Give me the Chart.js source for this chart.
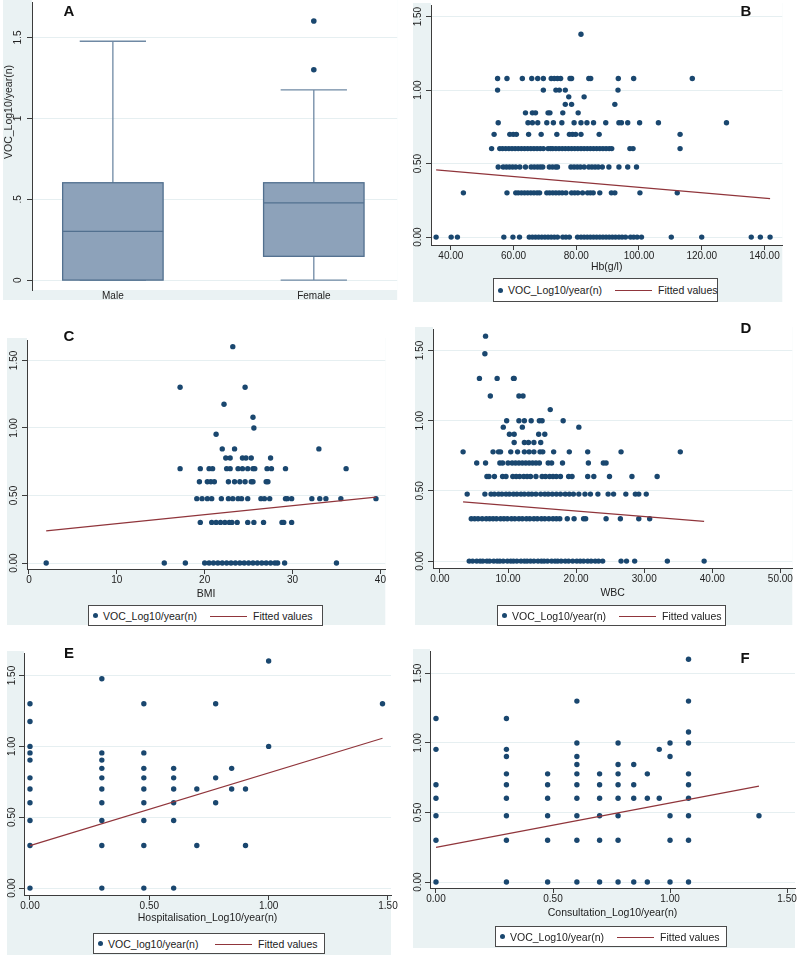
<!DOCTYPE html>
<html lang="en">
<head>
<meta charset="UTF-8">
<title>VOC_Log10/year(n) panels</title>
<style>
  body { margin: 0; background: #fff; font-family: "Liberation Sans", Arial, sans-serif; }
  #page { position: relative; width: 800px; height: 958px; overflow: hidden; }
  canvas { position: absolute; z-index: 1; }
  .letter { position: absolute; z-index: 5; font: bold 15px "Liberation Sans", Arial, sans-serif; color: #111; transform: translate(-50%, -50%); }
  .ytitle { position: absolute; z-index: 5; font-size: 10.5px; color: #222; white-space: nowrap; transform: translate(-50%, -50%) rotate(-90deg); }
  .legend { position: absolute; z-index: 5; box-sizing: border-box; border: 1px solid #4a4a4a; background: #fff; font-size: 10.5px; color: #222; }
  .legend span { position: absolute; top: 50%; white-space: nowrap; }
  .ldot { left: 4px; width: 5px; height: 5px; margin-top: -2.5px; border-radius: 50%; background: #1A476F; }
  .lt1 { left: 14px; transform: translateY(-50%); }
  .lline { left: 121px; width: 37px; border-top: 1.2px solid #90353B; }
  .lt2 { left: 164px; transform: translateY(-50%); }
</style>
</head>
<body>
<div id="page">
  <div class="letter" style="left:69px;top:10px">A</div>
  <div class="letter" style="left:746px;top:10px">B</div>
  <div class="letter" style="left:69px;top:335px">C</div>
  <div class="letter" style="left:746px;top:327px">D</div>
  <div class="letter" style="left:69px;top:652px">E</div>
  <div class="letter" style="left:745px;top:657px">F</div>
  <div class="ytitle" style="left:8px;top:112px">VOC_Log10/year(n)</div>
</div>

<script src="https://cdn.jsdelivr.net/npm/chart.js"></script>
<script>
    // ---- Panel A: box plot by sex ----
    var boxCats = ['Male', 'Female'];
    var boxMin = [0, 0];
    var boxQ1 = [0, 0.147];
    var boxMed = [0.301, 0.477];
    var boxQ3 = [0.602, 0.602];
    var boxMax = [1.477, 1.176];
    var outlierCat = [2, 2];
    var outlierVal = [1.301, 1.602];
    var boxYTicks = [0, 0.5, 1, 1.5];
    var boxYLabels = ['0', '.5', '1', '1.5'];

    // ---- Panel B: Hb (rows of [VOC value, Hb values]) ----
    var hbRows = [
        [0, [35.3, 40.1, 42.1, 56.9, 59.8, 61.9, 65, 66, 67, 68, 69, 70, 71, 72, 73, 74, 75.7, 76.7, 77.8, 80.4, 81.5, 82.5, 83.5, 84.5, 85.5, 86.5, 87.5, 88.5, 89.5, 90.5, 91.5, 92.5, 93.6, 94.6, 95.7, 97.3, 98.3, 99.4, 100.8, 110.3, 120, 135.8, 138.7, 141.8]],
        [0.301, [44, 57.9, 60.7, 61.5, 62.5, 63.5, 64.5, 65.5, 66.5, 67.5, 68.3, 70.6, 71.5, 72.5, 73.5, 74.5, 75.5, 76.7, 78.5, 79.5, 80.5, 82, 83.6, 84.5, 85.4, 87.5, 91.2, 92.3, 100.3, 112.2]],
        [0.477, [55.1, 56.7, 57.7, 58.7, 59.7, 60.7, 62, 63.8, 65.6, 66.6, 67.6, 68.5, 69.3, 71.4, 72.4, 73.4, 74, 78.3, 79.3, 80.3, 81.3, 82.5, 84, 85, 86, 87, 88.3, 90.4, 93.6, 96.4, 99.2]],
        [0.602, [53, 55.6, 56.5, 57.5, 58.5, 59.5, 60.5, 61.5, 62.5, 63.5, 64.5, 65.5, 66.5, 67.5, 68.5, 69.5, 71, 71.8, 72.5, 73.5, 74.5, 75.5, 76.5, 77.5, 78.5, 79.5, 80.5, 81.5, 82.5, 83.5, 84.5, 85.5, 86.5, 87.5, 88.5, 89.5, 90.5, 91.3, 97.1, 98.1, 113.1]],
        [0.699, [53.8, 58.8, 59.9, 60.9, 64.8, 68.8, 73.8, 77.8, 78.8, 79.8, 81.5, 87.3, 113.1]],
        [0.778, [55.1, 64.6, 66, 67.7, 70.6, 72.7, 75.4, 79.3, 81.5, 83.4, 85.5, 89.4, 93.6, 94.4, 96.4, 100.2, 106.2, 127.9]],
        [0.845, [63.8, 66, 67, 71, 71.6, 75.7, 80.6]],
        [0.903, [76.5, 78.5, 92.3]],
        [0.954, [77.6, 82.5]],
        [1.0, [54.9, 69.5, 73.5, 74.6, 76.5, 93.3]],
        [1.079, [54.9, 57.9, 62.8, 65.8, 67.7, 69.5, 72, 73, 74, 75, 78, 78.5, 84, 84.6, 93.4, 98.3, 117]],
        [1.380, [81.5]]
    ];
    var hbFitX = [35.3, 141.8];
    var hbFitY = [0.457, 0.262];
    var hbTicks = [40, 60, 80, 100, 120, 140];

    // ---- Panel C: BMI ----
    var bmiRows = [
        [0, [1.96, 15.4, 17.8, 20, 20.5, 21, 21.5, 22, 22.5, 23, 23.5, 24, 24.5, 25, 25.5, 26, 26.5, 27, 27.5, 28, 28.3, 29.1, 35]],
        [0.301, [19.5, 20.8, 21.3, 21.8, 22.3, 22.8, 23.1, 23.7, 24.9, 25.6, 26.7, 28.8, 29, 29.9]],
        [0.477, [19.1, 19.7, 20.3, 20.8, 21.9, 22.7, 23.2, 23.8, 24.2, 24.9, 26.4, 26.8, 27.4, 29.2, 29.4, 29.9, 32.2, 33.1, 33.8, 35.5, 39.5]],
        [0.602, [19.4, 20.3, 20.7, 21.1, 22.7, 23.4, 24, 24.6, 25.3, 25.5, 27, 27.2]],
        [0.699, [17.2, 19.5, 20.5, 20.9, 22.5, 22.9, 23.8, 24.3, 24.9, 25.5, 25.7, 27.1, 27.6, 29.2, 36.1]],
        [0.778, [22.4, 22.9, 24.3, 24.7, 25.3, 27.5]],
        [0.845, [22, 23.4, 33]],
        [0.954, [21.3]],
        [1.0, [25.6]],
        [1.079, [25.5]],
        [1.176, [22.2]],
        [1.301, [17.2, 24.6]],
        [1.602, [23.2]]
    ];
    var bmiFitX = [1.96, 39.5];
    var bmiFitY = [0.238, 0.488];
    var bmiTicks = [0, 10, 20, 30, 40];

    // ---- Panel D: WBC ----
    var wbcRows = [
        [0, [4.3, 4.8, 5.4, 5.9, 6.3, 6.9, 7.3, 7.9, 8.4, 8.8, 9.3, 9.9, 10.4, 10.8, 11.3, 11.9, 12.4, 12.8, 13.3, 13.8, 14.4, 14.9, 15.3, 15.8, 16.4, 16.9, 17.3, 17.8, 18.4, 18.9, 19.5, 20.1, 20.6, 21.1, 21.7, 22.2, 22.8, 23.3, 23.9, 26.6, 27.4, 28.6, 33.4, 38.8]],
        [0.301, [4.6, 5.1, 5.6, 6.2, 6.8, 7.3, 7.8, 8.3, 8.9, 9.4, 9.9, 10.5, 11.0, 11.6, 12.1, 12.7, 13.2, 13.8, 14.3, 14.9, 15.4, 16.0, 16.6, 17.1, 17.6, 18.7, 19.7, 21.1, 21.4, 24.4, 26.5, 29.2, 30.8]],
        [0.477, [4.0, 6.6, 7.5, 8.0, 8.6, 9.1, 9.7, 10.2, 10.8, 11.3, 11.9, 12.4, 13.0, 13.5, 14.1, 14.8, 15.4, 15.9, 16.5, 17.1, 17.7, 18.4, 19.0, 19.6, 20.4, 21.3, 22.1, 23.2, 24.7, 25.5, 27.3, 28.7, 29.2, 30.3]],
        [0.602, [6.9, 7.2, 8.0, 9.2, 9.7, 10.7, 11.2, 11.7, 12.3, 12.8, 13.3, 14.1, 15.0, 15.5, 16.1, 16.6, 17.1, 17.7, 18.9, 19.4, 21.7, 22.6, 24.9, 28.2, 31.9]],
        [0.699, [5.4, 6.7, 8.8, 9.2, 10.0, 10.6, 11.1, 11.6, 12.1, 12.6, 13.1, 13.6, 14.1, 14.6, 15.9, 16.4, 18.0, 21.8, 24.0, 24.4]],
        [0.778, [3.4, 7.8, 8.6, 8.9, 10.4, 11.4, 12.4, 13.1, 13.8, 14.7, 15.1, 16.7, 19.0, 21.7, 26.6, 35.3]],
        [0.845, [10.9, 12.4, 13.0, 13.8, 14.8]],
        [0.903, [10.2, 10.9, 14.5, 15.4]],
        [0.954, [9.3, 12.1, 20.4]],
        [1.0, [9.8, 11.6, 12.4, 13.4, 14.6, 15.0, 18.1]],
        [1.079, [16.2]],
        [1.176, [7.4, 11.6, 12.2]],
        [1.301, [5.8, 8.4, 10.8, 10.9]],
        [1.477, [6.6]],
        [1.602, [6.7]]
    ];
    var wbcFitX = [3.4, 38.8];
    var wbcFitY = [0.422, 0.283];
    var wbcTicks = [0, 10, 20, 30, 40, 50];

    // ---- Panel E: hospitalisation (columns of [x, VOC values]) ----
    var hospCols = [
        [0, [0, 0.301, 0.477, 0.602, 0.699, 0.778, 0.903, 0.954, 1.0, 1.176, 1.301]],
        [0.301, [0, 0.301, 0.477, 0.602, 0.699, 0.778, 0.845, 0.903, 0.954, 1.477]],
        [0.477, [0, 0.301, 0.477, 0.602, 0.699, 0.778, 0.845, 0.954, 1.301]],
        [0.602, [0, 0.477, 0.602, 0.699, 0.778, 0.845]],
        [0.699, [0.301, 0.699]],
        [0.778, [0.602, 0.778, 1.301]],
        [0.845, [0.699, 0.845]],
        [0.903, [0.301, 0.699]],
        [1.0, [1.0, 1.602]],
        [1.477, [1.301]]
    ];
    var hospFitX = [0, 1.477];
    var hospFitY = [0.300, 1.057];

    // ---- Panel F: consultation ----
    var consCols = [
        [0, [0, 0.301, 0.477, 0.602, 0.699, 0.954, 1.176]],
        [0.301, [0, 0.301, 0.477, 0.602, 0.699, 0.778, 0.903, 0.954, 1.176]],
        [0.477, [0, 0.301, 0.477, 0.602, 0.699, 0.778]],
        [0.602, [0, 0.301, 0.477, 0.602, 0.699, 0.778, 0.845, 0.903, 1.0, 1.301]],
        [0.699, [0, 0.301, 0.477, 0.602, 0.699, 0.778]],
        [0.778, [0, 0.301, 0.477, 0.602, 0.699, 0.778, 0.845, 1.0]],
        [0.845, [0, 0.602, 0.699, 0.845]],
        [0.903, [0, 0.602, 0.778]],
        [0.954, [0.602, 0.954]],
        [1.0, [0, 0.301, 0.477, 0.903, 1.0]],
        [1.079, [0, 0.301, 0.477, 0.602, 0.699, 0.778, 1.0, 1.079, 1.301, 1.602]],
        [1.380, [0.477]]
    ];
    var consFitX = [0, 1.38];
    var consFitY = [0.249, 0.690];

    var logTicks = [0, 0.5, 1, 1.5];
    var vocTicks = [0, 0.5, 1, 1.5];

    // ---- styling ----
    var NAVY = '#1A476F', MAROON = '#90353B', BG = '#EAF2F3', GRID = '#E6EFF1';
    var AXIS = '#3c3c3c', TXT = '#222';
    var FONT = '"Liberation Sans", Arial, sans-serif';

    function rowsToPoints(rows) {
        return rows.flatMap(function (r) { return r[1].map(function (x) { return {x: x, y: r[0]}; }); });
    }
    function colsToPoints(cols) {
        return cols.flatMap(function (c) { return c[1].map(function (y) { return {x: c[0], y: y}; }); });
    }
    function pairs(xs, ys) {
        return xs.map(function (x, i) { return {x: x, y: ys[i]}; });
    }
    function fix2(v) { return v.toFixed(2); }

    // light blue graph region, white plot region, rotated y labels
    var stataLook = {
        id: 'stataLook',
        beforeDraw: function (chart, args, opts) {
            var ctx = chart.ctx, a = chart.chartArea, inset = opts.bgInset || 0;
            ctx.save();
            ctx.fillStyle = BG;
            ctx.fillRect(inset, 0, a.right - inset, chart.height);
            ctx.fillStyle = '#fff';
            ctx.fillRect(a.left, 0, a.right - a.left, a.bottom);
            ctx.restore();
        },
        afterDraw: function (chart, args, opts) {
            var ctx = chart.ctx, y = chart.scales.y;
            ctx.save();
            ctx.font = '10px ' + FONT;
            ctx.fillStyle = TXT;
            ctx.textAlign = 'center';
            ctx.textBaseline = 'middle';
            y.ticks.forEach(function (t, i) {
                ctx.save();
                ctx.translate(y.right - opts.labelOffset, y.getPixelForValue(t.value));
                ctx.rotate(-Math.PI / 2);
                ctx.fillText(opts.fmt(t.value, i), 0, 0);
                ctx.restore();
            });
            ctx.restore();
        }
    };

    // boxes and whiskers for panel A, drawn through the chart scales
    var boxPlot = {
        id: 'boxPlot',
        beforeDatasetsDraw: function (chart) {
            var ctx = chart.ctx, x = chart.scales.x, y = chart.scales.y;
            ctx.save();
            boxCats.forEach(function (c, i) {
                var cx = i + 1;
                var px = x.getPixelForValue(cx);
                var l = x.getPixelForValue(cx - 0.25), r = x.getPixelForValue(cx + 0.25);
                var cl = x.getPixelForValue(cx - 0.165), cr = x.getPixelForValue(cx + 0.165);
                ctx.strokeStyle = '#6F89A4';
                ctx.lineWidth = 1.3;
                ctx.beginPath();
                ctx.moveTo(px, y.getPixelForValue(boxQ3[i])); ctx.lineTo(px, y.getPixelForValue(boxMax[i]));
                ctx.moveTo(cl, y.getPixelForValue(boxMax[i])); ctx.lineTo(cr, y.getPixelForValue(boxMax[i]));
                ctx.moveTo(px, y.getPixelForValue(boxQ1[i])); ctx.lineTo(px, y.getPixelForValue(boxMin[i]));
                ctx.moveTo(cl, y.getPixelForValue(boxMin[i])); ctx.lineTo(cr, y.getPixelForValue(boxMin[i]));
                ctx.stroke();
                var top = y.getPixelForValue(boxQ3[i]), bot = y.getPixelForValue(boxQ1[i]);
                ctx.fillStyle = '#8DA2BA';
                ctx.fillRect(l, top, r - l, bot - top);
                ctx.strokeStyle = '#52708F';
                ctx.strokeRect(l, top, r - l, bot - top);
                ctx.beginPath();
                ctx.moveTo(l, y.getPixelForValue(boxMed[i])); ctx.lineTo(r, y.getPixelForValue(boxMed[i]));
                ctx.stroke();
            });
            ctx.restore();
        }
    };

    function addCanvas(id, box) {
        var c = document.createElement('canvas');
        c.id = id;
        c.width = box[2];
        c.height = box[3];
        c.style.left = box[0] + 'px';
        c.style.top = box[1] + 'px';
        document.getElementById('page').appendChild(c);
        return c.getContext('2d');
    }

    function yScale(p) {
        return {
            type: 'linear', min: p.yMin, max: p.yMax,
            afterBuildTicks: function (s) { s.ticks = p.yTicks.map(function (v) { return {value: v}; }); },
            afterFit: function (s) { s.width = p.left; s.paddingTop = 0; s.paddingBottom = 0; },
            ticks: {display: false},
            grid: {color: GRID, lineWidth: 1, tickColor: AXIS, tickLength: 5, tickWidth: 1},
            border: {color: AXIS, width: 1}
        };
    }

    // ---- Panel A ----
    (function () {
        var p = {left: 29, bottom: 10, yMin: -0.0612, yMax: 1.7146, yTicks: boxYTicks};
        new Chart(addCanvas('cA', [3, 0, 397, 300]), {
            type: 'scatter',
            data: {
                datasets: [{
                    data: pairs(outlierCat, outlierVal),
                    backgroundColor: NAVY, borderWidth: 0, pointRadius: 2.8, pointHoverRadius: 2.8
                }]
            },
            options: {
                responsive: false, animation: false, events: [],
                layout: {padding: 0},
                plugins: {
                    legend: {display: false}, tooltip: {enabled: false},
                    stataLook: {labelOffset: 14, fmt: function (v, i) { return boxYLabels[i]; }}
                },
                scales: {
                    x: {
                        type: 'linear', min: 0.5975, max: 2.415,
                        afterBuildTicks: function (s) { s.ticks = boxCats.map(function (c, i) { return {value: i + 1}; }); },
                        afterFit: function (s) { s.height = p.bottom; s.paddingLeft = 0; s.paddingRight = 0; },
                        ticks: {font: {family: FONT, size: 10}, color: TXT, padding: 0, maxRotation: 0,
                                callback: function (v) { return boxCats[v - 1]; }},
                        grid: {display: false, drawTicks: false},
                        border: {display: false}
                    },
                    y: yScale(p)
                }
            },
            plugins: [stataLook, boxPlot]
        });
    })();

    // ---- scatter panels B-F ----
    var panels = [
        {id: 'cB', box: [413, 3, 372, 299], padR: 0, inset: 0, left: 18, lab: 13, bottom: 57, xMin: 33.67, xMax: 145.7, yMin: -0.0538, yMax: 1.574,
         xTicks: hbTicks, xFmt: fix2, xTitle: 'Hb(g/l)', titlePad: 28.7, points: rowsToPoints(hbRows), fit: pairs(hbFitX, hbFitY)},
        {id: 'cC', box: [7, 338, 381, 287], padR: 0, inset: 0, left: 20, lab: 13, bottom: 56, xMin: -0.226, xMax: 40.56, yMin: -0.0439, yMax: 1.646,
         xTicks: bmiTicks, xFmt: function (v) { return String(v); }, xTitle: 'BMI', titlePad: 24.7, points: rowsToPoints(bmiRows), fit: pairs(bmiFitX, bmiFitY)},
        {id: 'cD', box: [415, 327, 380, 298], padR: 0, inset: 0, left: 18, lab: 13, bottom: 57, xMin: -1.02, xMax: 51.75, yMin: -0.0493, yMax: 1.648,
         xTicks: wbcTicks, xFmt: fix2, xTitle: 'WBC', titlePad: 25.7, points: rowsToPoints(wbcRows), fit: pairs(wbcFitX, wbcFitY)},
        {id: 'cE', box: [3, 651, 397, 304], padR: 9, inset: 4, left: 21, lab: 12, bottom: 60, xMin: -0.0251, xMax: 1.5126, yMin: -0.0488, yMax: 1.654,
         xTicks: logTicks, xFmt: fix2, xTitle: 'Hospitalisation_Log10/year(n)', titlePad: 30.7, points: colsToPoints(hospCols), fit: pairs(hospFitX, hospFitY)},
        {id: 'cF', box: [409, 649, 391, 299], padR: 5, inset: 4, left: 21, lab: 12, bottom: 60, xMin: -0.0256, xMax: 1.534, yMin: -0.0427, yMax: 1.656,
         xTicks: logTicks, xFmt: fix2, xTitle: 'Consultation_Log10/year(n)', titlePad: 28.7, points: colsToPoints(consCols), fit: pairs(consFitX, consFitY)}
    ];

    panels.forEach(function (p) {
        p.yTicks = vocTicks;
        new Chart(addCanvas(p.id, p.box), {
            type: 'scatter',
            data: {
                datasets: [{
                    data: p.fit, showLine: true, order: 0,
                    borderColor: MAROON, borderWidth: 1.2, pointRadius: 0, pointHoverRadius: 0
                }, {
                    data: p.points, order: 1,
                    backgroundColor: NAVY, borderWidth: 0, pointRadius: 2.7, pointHoverRadius: 2.7
                }]
            },
            options: {
                responsive: false, animation: false, events: [],
                layout: {padding: {left: 0, top: 0, bottom: 0, right: p.padR}},
                plugins: {
                    legend: {display: false}, tooltip: {enabled: false},
                    stataLook: {labelOffset: p.lab, bgInset: p.inset, fmt: fix2}
                },
                scales: {
                    x: {
                        type: 'linear', min: p.xMin, max: p.xMax,
                        afterBuildTicks: function (s) { s.ticks = p.xTicks.map(function (v) { return {value: v}; }); },
                        afterFit: function (s) { s.height = p.bottom; s.paddingLeft = 0; s.paddingRight = 0; },
                        ticks: {font: {family: FONT, size: 10}, color: TXT, padding: 0, maxRotation: 0, autoSkip: false,
                                callback: function (v) { return p.xFmt(v); }},
                        grid: {drawOnChartArea: false, drawTicks: true, tickLength: 5, tickColor: AXIS, tickWidth: 1},
                        border: {color: AXIS, width: 1},
                        title: {display: true, text: p.xTitle, color: TXT, font: {family: FONT, size: 10.5},
                                padding: {top: 0, bottom: p.titlePad}}
                    },
                    y: yScale(p)
                }
            },
            plugins: [stataLook]
        });
    });

    // legends (Stata style boxed keys)
    var legendSpecs = [
        [493, 278, 225, 24, 'VOC_Log10/year(n)'],
        [88, 605, 235, 21, 'VOC_Log10/year(n)'],
        [497, 605, 229, 21, 'VOC_Log10/year(n)'],
        [93, 933, 232, 21, 'VOC_log10/year(n)'],
        [495, 926, 232, 21, 'VOC_Log10/year(n)']
    ];
    legendSpecs.forEach(function (s) {
        var d = document.createElement('div');
        d.className = 'legend';
        d.style.left = s[0] + 'px';
        d.style.top = s[1] + 'px';
        d.style.width = s[2] + 'px';
        d.style.height = s[3] + 'px';
        d.innerHTML = '<span class="ldot"></span><span class="lt1">' + s[4] + '</span>' +
                      '<span class="lline"></span><span class="lt2">Fitted values</span>';
        document.getElementById('page').appendChild(d);
    });
</script>
</body>
</html>
